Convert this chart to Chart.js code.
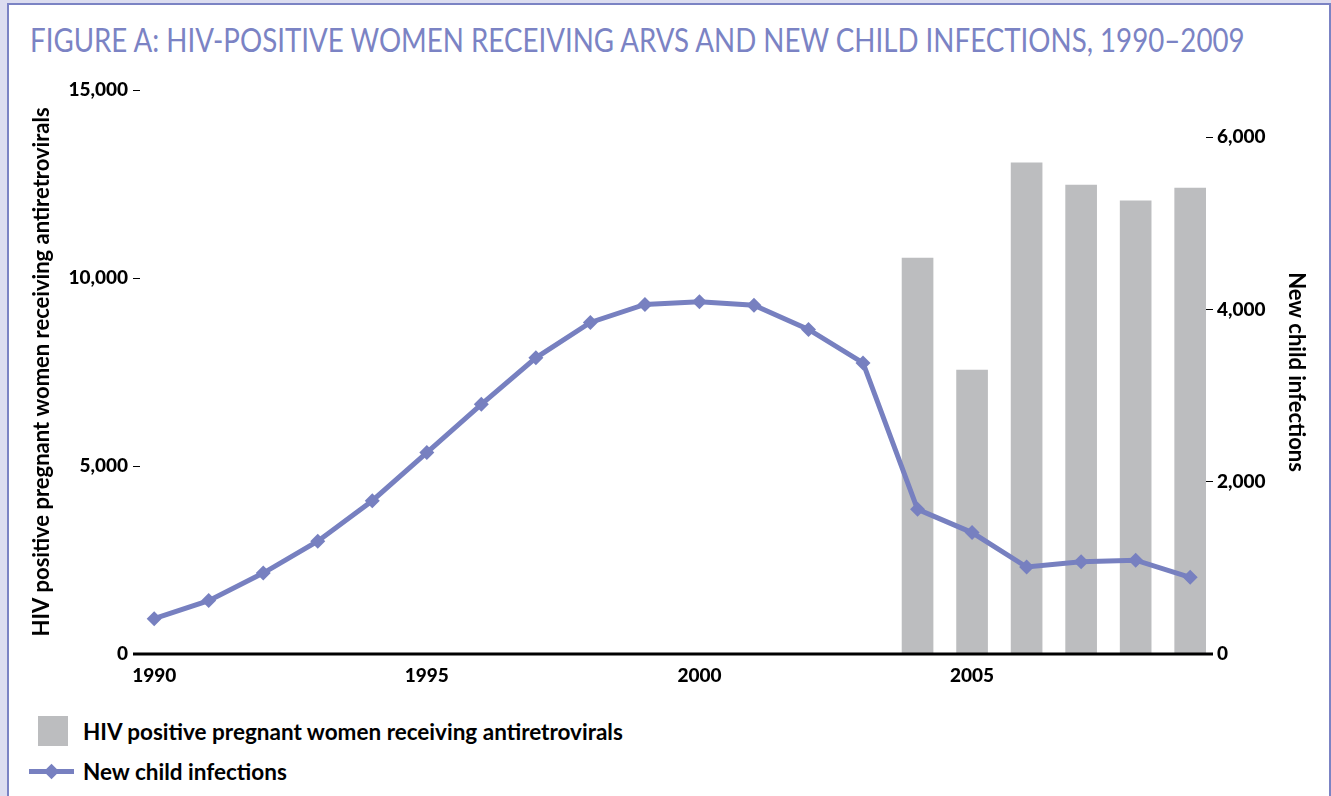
<!DOCTYPE html>
<html>
<head>
<meta charset="utf-8">
<script src="https://cdn.jsdelivr.net/npm/chart.js@4"></script>
<style>
  body { margin: 0; background: #dcddf0; font-family: Lato, sans-serif; }
  #frame { position: absolute; left: 7px; top: 3px; width: 1320px; height: 820px;
           border: 2px solid #7b83c4; background: #fff; }
  #title { position: absolute; left: 30px; top: 20px; font-size: 32px; color: #7b83c4;
           white-space: nowrap; transform-origin: left top; font-weight: 400; }
  #box { position: absolute; left: 0; top: 0; width: 1331px; height: 700px; }
  .leg { position: absolute; left: 0; height: 30px; font-weight: bold; font-size: 22.5px; }
  .leg span { position: absolute; left: 83px; top: 50%; transform: translateY(-50%); white-space: nowrap; }
</style>
</head>
<body>
<div id="frame"></div>
<div id="title">FIGURE A: HIV-POSITIVE WOMEN RECEIVING ARVS AND NEW CHILD INFECTIONS, 1990–2009</div>
<div id="box"><canvas id="chart"></canvas></div>
<div id="legend"></div>
<script>
const years = [1990, 1991, 1992, 1993, 1994, 1995, 1996, 1997, 1998, 1999,
               2000, 2001, 2002, 2003, 2004, 2005, 2006, 2007, 2008, 2009];
const infections = [410, 620, 940, 1310, 1780, 2340, 2900, 3440, 3850, 4060,
                    4090, 4050, 3770, 3380, 1680, 1410, 1010, 1070, 1090, 890];
const arvs = [null, null, null, null, null, null, null, null, null, null,
              null, null, null, null, 10530, 7550, 13060, 12470, 12050, 12390];
const xTicks = [1990, 1995, 2000, 2005];
const leftTicks = [0, 5000, 10000, 15000];
const rightTicks = [0, 2000, 4000, 6000];

const lineColor = '#7780c0';
const barColor = '#bcbdbf';
const tickFont = {family: 'Lato', size: 19, weight: '900'};
const titleFont = {family: 'Lato', size: 22, weight: 'bold'};

// fit title to the width it takes in the original
const title = document.getElementById('title');
title.style.transform = 'scaleX(' + (1215 / title.scrollWidth) + ')';

const lineData = years.map((y, i) => ({x: y, y: infections[i]}));
const barData = years.map((y, i) => ({x: y, y: arvs[i]})).filter(p => p.y !== null);

const baseline = {
  id: 'baseline',
  afterDatasetsDraw(chart) {
    const {ctx, scales} = chart;
    const y0 = scales.yL.getPixelForValue(0);
    ctx.save();
    ctx.strokeStyle = '#000';
    ctx.lineWidth = 3;
    ctx.beginPath();
    ctx.moveTo(scales.x.left - 7, y0);
    ctx.lineTo(scales.x.right + 7, y0);
    ctx.stroke();
    ctx.restore();
  }
};

const chart = new Chart(document.getElementById('chart'), {
  data: {
    datasets: [{
      type: 'line',
      label: 'New child infections',
      data: lineData,
      yAxisID: 'yR',
      borderColor: lineColor,
      backgroundColor: lineColor,
      borderWidth: 5,
      tension: 0,
      pointStyle: 'rectRot',
      pointRadius: 7.5,
      pointBorderWidth: 0,
      order: 0
    }, {
      type: 'bar',
      label: 'HIV positive pregnant women receiving antiretrovirals',
      data: barData,
      yAxisID: 'yL',
      backgroundColor: barColor,
      barThickness: 31,
      order: 1
    }]
  },
  plugins: [baseline],
  options: {
    responsive: true,
    maintainAspectRatio: false,
    animation: false,
    layout: {padding: {left: 25, right: 18, top: 90, bottom: 0}},
    plugins: {legend: {display: false}, tooltip: {enabled: false}},
    scales: {
      x: {
        type: 'linear',
        offset: false,
        min: 1989.74,
        max: 2009.29,
        afterBuildTicks: s => { s.ticks = xTicks.map(v => ({value: v})); },
        afterFit: s => { s.height = 46; },
        grid: {display: false, drawTicks: false},
        border: {display: false},
        ticks: {font: tickFont, color: '#000', padding: 10, maxRotation: 0,
                callback: v => String(v)}
      },
      yL: {
        position: 'left',
        min: 0,
        max: 15000,
        afterBuildTicks: s => { s.ticks = leftTicks.map(v => ({value: v})); },
        afterFit: s => { s.width = 140 - 25; },
        grid: {drawOnChartArea: false, drawTicks: true, tickLength: 7, color: '#000'},
        border: {display: false},
        ticks: {font: tickFont, color: '#000', padding: 5},
        title: {display: true, text: 'HIV positive pregnant women receiving antiretrovirals',
                font: titleFont, color: '#000', padding: 4}
      },
      yR: {
        position: 'right',
        min: 0,
        max: 6550,
        afterBuildTicks: s => { s.ticks = rightTicks.map(v => ({value: v})); },
        afterFit: s => { s.width = 1331 - 18 - 1206; },
        grid: {drawOnChartArea: false, drawTicks: true, tickLength: 7, color: '#000'},
        border: {display: false},
        ticks: {font: tickFont, color: '#000', padding: 4},
        title: {display: true, text: 'New child infections',
                font: titleFont, color: '#000', padding: 4}
      }
    }
  }
});

// legend below the chart, from the datasets
const legend = document.getElementById('legend');
const bars = chart.data.datasets[1];
const line = chart.data.datasets[0];
legend.innerHTML =
  '<div class="leg" style="top:716px;width:700px">' +
    '<div style="position:absolute;left:38px;top:0;width:30px;height:30px;background:' + bars.backgroundColor + '"></div>' +
    '<span>' + bars.label + '</span></div>' +
  '<div class="leg" style="top:756px;width:700px">' +
    '<div style="position:absolute;left:29px;top:13px;width:45px;height:5px;background:' + line.borderColor + '"></div>' +
    '<div style="position:absolute;left:46px;top:10px;width:11px;height:11px;transform:rotate(45deg);background:' + line.borderColor + '"></div>' +
    '<span>' + line.label + '</span></div>';
</script>
</body>
</html>
